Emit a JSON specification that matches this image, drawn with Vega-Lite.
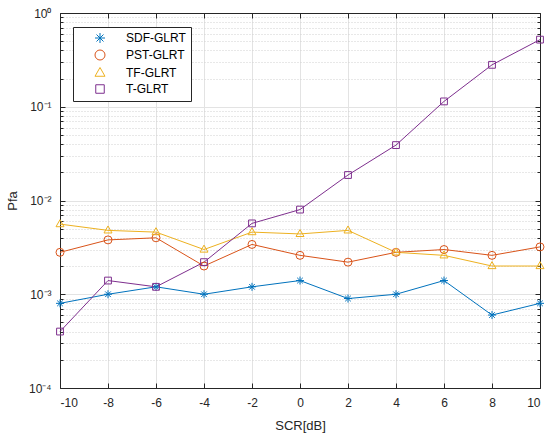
{
  "$schema": "https://vega.github.io/schema/vega-lite/v6.json",
  "width": 480,
  "height": 375,
  "autosize": "none",
  "padding": {"left": 60, "top": 13, "right": 10, "bottom": 52},
  "background": "white",
  "data": {
    "values": [
      {"scr": -10, "method": "SDF-GLRT", "pfa": 0.0008},
      {"scr": -8, "method": "SDF-GLRT", "pfa": 0.001},
      {"scr": -6, "method": "SDF-GLRT", "pfa": 0.0012},
      {"scr": -4, "method": "SDF-GLRT", "pfa": 0.001},
      {"scr": -2, "method": "SDF-GLRT", "pfa": 0.0012},
      {"scr": 0, "method": "SDF-GLRT", "pfa": 0.0014},
      {"scr": 2, "method": "SDF-GLRT", "pfa": 0.0009},
      {"scr": 4, "method": "SDF-GLRT", "pfa": 0.001},
      {"scr": 6, "method": "SDF-GLRT", "pfa": 0.0014},
      {"scr": 8, "method": "SDF-GLRT", "pfa": 0.0006},
      {"scr": 10, "method": "SDF-GLRT", "pfa": 0.0008},
      {"scr": -10, "method": "PST-GLRT", "pfa": 0.0028},
      {"scr": -8, "method": "PST-GLRT", "pfa": 0.0038},
      {"scr": -6, "method": "PST-GLRT", "pfa": 0.004},
      {"scr": -4, "method": "PST-GLRT", "pfa": 0.002},
      {"scr": -2, "method": "PST-GLRT", "pfa": 0.0034},
      {"scr": 0, "method": "PST-GLRT", "pfa": 0.0026},
      {"scr": 2, "method": "PST-GLRT", "pfa": 0.0022},
      {"scr": 4, "method": "PST-GLRT", "pfa": 0.0028},
      {"scr": 6, "method": "PST-GLRT", "pfa": 0.003},
      {"scr": 8, "method": "PST-GLRT", "pfa": 0.0026},
      {"scr": 10, "method": "PST-GLRT", "pfa": 0.0032},
      {"scr": -10, "method": "TF-GLRT", "pfa": 0.0056},
      {"scr": -8, "method": "TF-GLRT", "pfa": 0.0048},
      {"scr": -6, "method": "TF-GLRT", "pfa": 0.0046},
      {"scr": -4, "method": "TF-GLRT", "pfa": 0.003},
      {"scr": -2, "method": "TF-GLRT", "pfa": 0.0046},
      {"scr": 0, "method": "TF-GLRT", "pfa": 0.0044},
      {"scr": 2, "method": "TF-GLRT", "pfa": 0.0048},
      {"scr": 4, "method": "TF-GLRT", "pfa": 0.0028},
      {"scr": 6, "method": "TF-GLRT", "pfa": 0.0026},
      {"scr": 8, "method": "TF-GLRT", "pfa": 0.002},
      {"scr": 10, "method": "TF-GLRT", "pfa": 0.002},
      {"scr": -10, "method": "T-GLRT", "pfa": 0.0004},
      {"scr": -8, "method": "T-GLRT", "pfa": 0.0014},
      {"scr": -6, "method": "T-GLRT", "pfa": 0.0012},
      {"scr": -4, "method": "T-GLRT", "pfa": 0.0022},
      {"scr": -2, "method": "T-GLRT", "pfa": 0.0057},
      {"scr": 0, "method": "T-GLRT", "pfa": 0.008},
      {"scr": 2, "method": "T-GLRT", "pfa": 0.0187},
      {"scr": 4, "method": "T-GLRT", "pfa": 0.039},
      {"scr": 6, "method": "T-GLRT", "pfa": 0.114},
      {"scr": 8, "method": "T-GLRT", "pfa": 0.28},
      {"scr": 10, "method": "T-GLRT", "pfa": 0.52}
    ]
  },
  "layer": [
    {
      "mark": {"type": "line", "strokeWidth": 1},
      "encoding": {
        "x": {
          "field": "scr", "type": "quantitative",
          "scale": {"domain": [-10, 10], "nice": false},
          "axis": {
            "orient": "bottom", "title": "SCR[dB]",
            "values": [-10, -8, -6, -4, -2, 0, 2, 4, 6, 8, 10],
            "labelExpr": "'' + datum.value",
            "grid": true, "gridColor": "#e3e3e3",
            "tickSize": -5, "labelPadding": 14, "titlePadding": 11
          }
        },
        "y": {
          "field": "pfa", "type": "quantitative",
          "scale": {"type": "log", "domain": [0.0001, 1], "nice": false},
          "axis": {
            "orient": "left", "title": "Pfa",
            "values": [0.0001, 0.0002, 0.0003, 0.0004, 0.0005, 0.0006, 0.0007, 0.0008, 0.0009,
                       0.001, 0.002, 0.003, 0.004, 0.005, 0.006, 0.007, 0.008, 0.009,
                       0.01, 0.02, 0.03, 0.04, 0.05, 0.06, 0.07, 0.08, 0.09,
                       0.1, 0.2, 0.3, 0.4, 0.5, 0.6, 0.7, 0.8, 0.9, 1],
            "labelOverlap": false,
            "labelExpr": "datum.value > 0.95 ? '10⁰' : abs(datum.value - 0.1) < 1e-9 ? '10⁻¹' : abs(datum.value - 0.01) < 1e-10 ? '10⁻²' : abs(datum.value - 0.001) < 1e-11 ? '10⁻³' : abs(datum.value - 0.0001) < 1e-12 ? '10⁻⁴' : ''",
            "grid": true,
            "gridColor": {"condition": {"test": "abs(log(datum.value)/LN10 - round(log(datum.value)/LN10)) < 1e-6", "value": "#e3e3e3"}, "value": "#d0d0d0"},
            "gridDash": {"condition": {"test": "abs(log(datum.value)/LN10 - round(log(datum.value)/LN10)) < 1e-6", "value": []}, "value": [1, 2]},
            "tickSize": {"condition": {"test": "abs(log(datum.value)/LN10 - round(log(datum.value)/LN10)) < 1e-6", "value": -5}, "value": -3},
            "labelPadding": 14, "titlePadding": 9
          }
        },
        "color": {
          "field": "method", "type": "nominal",
          "scale": {
            "domain": ["SDF-GLRT", "PST-GLRT", "TF-GLRT", "T-GLRT"],
            "range": ["#0072BD", "#D95319", "#EDB120", "#7E2F8E"]
          }
        }
      }
    },
    {
      "mark": {"type": "point", "filled": false, "size": 64, "strokeWidth": 1, "opacity": 1},
      "encoding": {
        "x": {
          "field": "scr", "type": "quantitative",
          "axis": {
            "orient": "top", "title": null, "labels": false, "grid": false,
            "values": [-10, -8, -6, -4, -2, 0, 2, 4, 6, 8, 10],
            "tickSize": -5
          }
        },
        "y": {
          "field": "pfa", "type": "quantitative",
          "axis": {
            "orient": "right", "title": null, "labels": false, "grid": false,
            "values": [0.0001, 0.0002, 0.0003, 0.0004, 0.0005, 0.0006, 0.0007, 0.0008, 0.0009,
                       0.001, 0.002, 0.003, 0.004, 0.005, 0.006, 0.007, 0.008, 0.009,
                       0.01, 0.02, 0.03, 0.04, 0.05, 0.06, 0.07, 0.08, 0.09,
                       0.1, 0.2, 0.3, 0.4, 0.5, 0.6, 0.7, 0.8, 0.9, 1],
            "tickSize": {"condition": {"test": "abs(log(datum.value)/LN10 - round(log(datum.value)/LN10)) < 1e-6", "value": -5}, "value": -3}
          }
        },
        "color": {
          "field": "method", "type": "nominal",
          "legend": {
            "title": null,
            "orient": "none", "legendX": 13, "legendY": 14
          }
        },
        "shape": {
          "field": "method", "type": "nominal",
          "scale": {
            "domain": ["SDF-GLRT", "PST-GLRT", "TF-GLRT", "T-GLRT"],
            "range": [
              "M0,-1L0,1M-1,0L1,0M-0.7,-0.7L0.7,0.7M-0.7,0.7L0.7,-0.7",
              "circle",
              "M0,-1.1L1,0.65L-1,0.65Z",
              "M-0.85,-0.85L0.85,-0.85L0.85,0.85L-0.85,0.85Z"
            ]
          },
          "legend": null
        }
      }
    }
  ],
  "resolve": {"axis": {"x": "independent", "y": "independent"}},
  "config": {
    "view": {"stroke": null},
    "font": "Liberation Sans",
    "axis": {
      "domainColor": "#262626", "tickColor": "#262626",
      "labelColor": "#262626", "titleColor": "#262626",
      "labelFontSize": 12, "titleFontSize": 13, "titleFontWeight": "normal",
      "labelFont": "Liberation Sans", "titleFont": "Liberation Sans"
    },
    "legend": {
      "strokeColor": "#262626", "fillColor": "white",
      "padding": 5, "symbolOffset": 16, "labelOffset": 20,
      "rowPadding": 3, "symbolSize": 100, "symbolStrokeWidth": 1,
      "labelFontSize": 12, "labelColor": "#000000", "labelFont": "Liberation Sans"
    }
  }
}
